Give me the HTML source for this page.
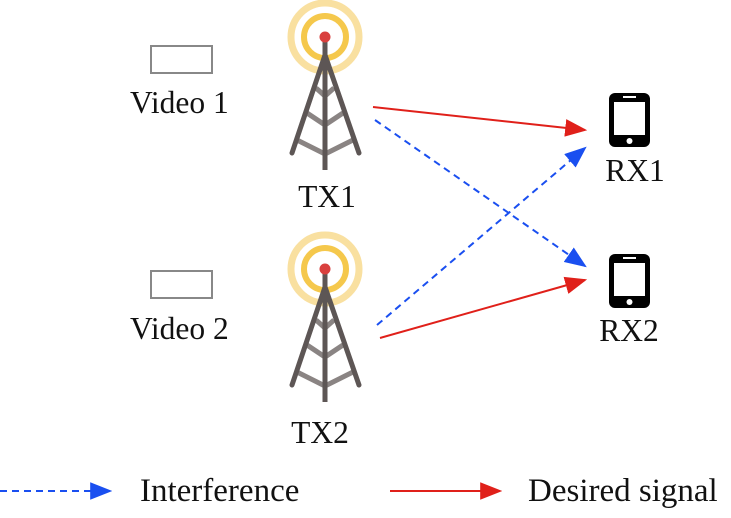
<!DOCTYPE html>
<html><head><style>body{margin:0;background:#fff}svg{display:block}</style></head><body>
<svg width="731" height="518" viewBox="0 0 731 518" xmlns="http://www.w3.org/2000/svg" font-family="Liberation Serif, serif" font-size="31.5" fill="#111">
<defs>
<marker id="ra" viewBox="0 0 10 8" markerWidth="22" markerHeight="18" refX="9" refY="4" orient="auto" markerUnits="userSpaceOnUse"><path d="M0,0 L10,4 L0,8z" fill="#e0201a"/></marker>
<marker id="ba" viewBox="0 0 10 8" markerWidth="22" markerHeight="18" refX="9" refY="4" orient="auto" markerUnits="userSpaceOnUse"><path d="M0,0 L10,4 L0,8z" fill="#1a4ff0"/></marker>
<g id="tw">
<circle cx="325" cy="37" r="34" fill="none" stroke="#f9e0a0" stroke-width="7"/>
<circle cx="325" cy="37" r="21" fill="none" stroke="#f5c84c" stroke-width="6"/>
<g stroke="#8a8483" stroke-width="5">
<line x1="316" y1="88" x2="325" y2="96"/><line x1="334" y1="88" x2="325" y2="96"/>
<line x1="307" y1="113" x2="325" y2="125"/><line x1="343" y1="113" x2="325" y2="125"/>
<line x1="297" y1="140" x2="325" y2="154"/><line x1="353" y1="140" x2="325" y2="154"/>
</g>
<g stroke="#5d5655" stroke-width="5" stroke-linecap="round">
<line x1="325" y1="40" x2="325" y2="170" stroke-linecap="butt"/>
<line x1="325" y1="55" x2="292" y2="153"/><line x1="325" y1="55" x2="359" y2="153"/>
</g>
<circle cx="325" cy="37" r="5.5" fill="#d9403e"/>
</g>
<g id="ph">
<rect x="609" y="93" width="41" height="54" rx="6" fill="#000"/>
<rect x="614" y="102" width="31" height="33" fill="#fff"/>
<rect x="623" y="96" width="13" height="2" fill="#fff"/>
<circle cx="629.5" cy="141" r="3" fill="#fff"/>
</g>
</defs>
<use href="#tw"/>
<use href="#tw" y="232"/>
<use href="#ph"/>
<use href="#ph" y="161"/>
<rect x="151" y="46" width="61" height="27" fill="none" stroke="#888" stroke-width="2"/>
<rect x="151" y="271" width="61" height="27" fill="none" stroke="#888" stroke-width="2"/>
<text x="130" y="113">Video 1</text>
<text x="130" y="339">Video 2</text>
<text x="327" y="207" text-anchor="middle">TX1</text>
<text x="320" y="443" text-anchor="middle">TX2</text>
<text x="635" y="181" text-anchor="middle">RX1</text>
<text x="629" y="341" text-anchor="middle">RX2</text>
<line x1="373" y1="107" x2="585" y2="130" stroke="#e0201a" stroke-width="2" marker-end="url(#ra)"/>
<line x1="380" y1="338" x2="585" y2="280" stroke="#e0201a" stroke-width="2" marker-end="url(#ra)"/>
<line x1="375" y1="120" x2="585" y2="266" stroke="#1a4ff0" stroke-width="2" stroke-dasharray="7,5" marker-end="url(#ba)"/>
<line x1="377" y1="325" x2="585" y2="148" stroke="#1a4ff0" stroke-width="2" stroke-dasharray="7,5" marker-end="url(#ba)"/>
<line x1="0" y1="491" x2="110" y2="491" stroke="#1a4ff0" stroke-width="2" stroke-dasharray="7,5" marker-end="url(#ba)"/>
<line x1="390" y1="491" x2="500" y2="491" stroke="#e0201a" stroke-width="2" marker-end="url(#ra)"/>
<text x="140" y="501" font-size="33">Interference</text>
<text x="528" y="501" font-size="33">Desired signal</text>
</svg>
</body></html>
